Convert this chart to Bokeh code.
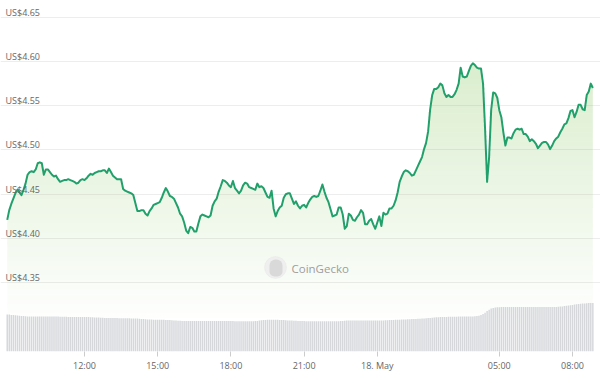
import numpy as np
import pandas as pd
from bokeh.plotting import figure
from bokeh.models import Range1d, FixedTicker, Label, BoxAnnotation, Grid
from bokeh.core.properties import value
from bokeh.embed import file_html
from bokeh.resources import INLINE

# ---------------- data ----------------
start_time = "2023-05-17 08:50"   # first 5-minute sample
day_start = "2023-05-17 00:00"

price_usd = [
    4.421, 4.432, 4.439, 4.445, 4.451, 4.455, 4.452, 4.449, 4.455, 4.462,
    4.472, 4.475, 4.476, 4.475, 4.478, 4.485, 4.486, 4.485, 4.472, 4.478,
    4.478, 4.475, 4.472, 4.470, 4.471, 4.467, 4.464, 4.465, 4.466, 4.466,
    4.467, 4.466, 4.465, 4.464, 4.462, 4.463, 4.466, 4.467, 4.466, 4.468,
    4.471, 4.473, 4.472, 4.474, 4.475, 4.476, 4.476, 4.477, 4.477, 4.474,
    4.479, 4.475, 4.471, 4.469, 4.467, 4.467, 4.467, 4.456, 4.454, 4.453,
    4.452, 4.451, 4.449, 4.440, 4.431, 4.431, 4.432, 4.432, 4.428, 4.426,
    4.431, 4.434, 4.438, 4.439, 4.440, 4.441, 4.446, 4.452, 4.457, 4.453,
    4.448, 4.447, 4.445, 4.440, 4.435, 4.428, 4.425, 4.418, 4.409, 4.406,
    4.413, 4.412, 4.408, 4.408, 4.417, 4.425, 4.427, 4.426, 4.425, 4.424,
    4.426, 4.437, 4.442, 4.445, 4.453, 4.459, 4.466, 4.465, 4.463, 4.460,
    4.458, 4.465, 4.457, 4.454, 4.451, 4.454, 4.460, 4.463, 4.462, 4.458,
    4.457, 4.456, 4.455, 4.462, 4.458, 4.459, 4.457, 4.452, 4.447, 4.446,
    4.454, 4.434, 4.425, 4.431, 4.435, 4.437, 4.446, 4.450, 4.451, 4.451,
    4.445, 4.439, 4.442, 4.437, 4.434, 4.437, 4.438, 4.435, 4.440, 4.444,
    4.447, 4.448, 4.447, 4.448, 4.454, 4.461, 4.453, 4.446, 4.441, 4.433,
    4.425, 4.426, 4.427, 4.435, 4.435, 4.427, 4.411, 4.414, 4.428, 4.426,
    4.421, 4.420, 4.424, 4.427, 4.432, 4.429, 4.416, 4.416, 4.420, 4.422,
    4.416, 4.411, 4.418, 4.425, 4.414, 4.429, 4.427, 4.428, 4.434, 4.434,
    4.437, 4.443, 4.452, 4.464, 4.470, 4.475, 4.477, 4.476, 4.474, 4.471,
    4.472, 4.477, 4.482, 4.487, 4.492, 4.501, 4.508, 4.521, 4.546, 4.562,
    4.569, 4.569, 4.571, 4.575, 4.573, 4.564, 4.560, 4.562, 4.560, 4.560,
    4.563, 4.568, 4.575, 4.593, 4.583, 4.582, 4.583, 4.589, 4.595, 4.598,
    4.596, 4.593, 4.592, 4.592, 4.575, 4.524, 4.464, 4.492, 4.545, 4.565,
    4.564, 4.559, 4.545, 4.537, 4.520, 4.505, 4.514, 4.514, 4.513, 4.519,
    4.523, 4.524, 4.523, 4.524, 4.518, 4.518, 4.515, 4.510, 4.512, 4.510,
    4.507, 4.502, 4.505, 4.508, 4.509, 4.509, 4.506, 4.501, 4.505, 4.510,
    4.513, 4.515, 4.520, 4.524, 4.529, 4.530, 4.536, 4.544, 4.545, 4.537,
    4.543, 4.551, 4.551, 4.546, 4.545, 4.562, 4.566, 4.575, 4.570,
]

volume_musd = [
    37.0, 37.0, 36.6, 36.4, 36.2, 36.0, 35.8, 35.6, 35.4, 35.2,
    35.1, 35.0, 35.0, 35.0, 35.0, 35.0, 35.0, 35.0, 35.0, 35.0,
    35.0, 35.0, 35.0, 35.0, 35.0, 34.9, 34.8, 34.8, 34.7, 34.7,
    34.6, 34.6, 34.6, 34.6, 34.5, 34.5, 34.5, 34.5, 34.4, 34.4,
    34.4, 34.3, 34.2, 34.1, 34.0, 33.9, 33.8, 33.7, 33.6, 33.5,
    33.5, 33.5, 33.5, 33.4, 33.4, 33.3, 33.3, 33.3, 33.2, 33.2,
    33.2, 33.1, 33.0, 33.0, 32.9, 32.8, 32.6, 32.4, 32.2, 32.0,
    31.9, 31.9, 31.8, 31.8, 31.8, 31.7, 31.7, 31.7, 31.6, 31.5,
    31.4, 31.2, 31.0, 30.9, 30.8, 30.7, 30.6, 30.6, 30.5, 30.5,
    30.5, 30.5, 30.5, 30.5, 30.5, 30.5, 30.5, 30.5, 30.5, 30.5,
    30.5, 30.5, 30.5, 30.5, 30.5, 30.4, 30.4, 30.4, 30.4, 30.4,
    30.4, 30.4, 30.3, 30.3, 30.3, 30.3, 30.3, 30.3, 30.3, 30.3,
    30.3, 30.3, 30.4, 30.6, 30.9, 31.2, 31.5, 31.6, 31.7, 31.7,
    31.7, 31.7, 31.7, 31.7, 31.6, 31.5, 31.4, 31.3, 31.1, 31.0,
    30.9, 30.8, 30.7, 30.6, 30.5, 30.4, 30.4, 30.3, 30.3, 30.3,
    30.3, 30.3, 30.3, 30.3, 30.3, 30.3, 30.3, 30.3, 30.3, 30.3,
    30.3, 30.3, 30.3, 30.3, 30.4, 30.6, 30.8, 31.0, 31.0, 31.0,
    31.0, 31.0, 31.0, 31.0, 31.0, 31.0, 31.0, 31.0, 31.0, 31.0,
    31.0, 31.0, 31.0, 31.0, 31.0, 31.1, 31.2, 31.3, 31.4, 31.5,
    31.6, 31.7, 31.7, 31.8, 31.9, 32.0, 32.1, 32.2, 32.3, 32.4,
    32.5, 32.6, 32.7, 32.8, 32.9, 33.0, 33.2, 33.4, 33.6, 33.8,
    34.0, 34.2, 34.3, 34.4, 34.5, 34.6, 34.6, 34.7, 34.7, 34.8,
    34.8, 34.8, 34.9, 34.9, 34.9, 35.0, 35.0, 35.0, 35.0, 35.1,
    35.2, 35.4, 35.8, 36.4, 37.4, 38.8, 40.4, 41.8, 42.9, 43.6,
    44.0, 44.2, 44.3, 44.4, 44.4, 44.4, 44.4, 44.4, 44.4, 44.4,
    44.4, 44.4, 44.4, 44.4, 44.4, 44.4, 44.4, 44.4, 44.4, 44.4,
    44.4, 44.4, 44.4, 44.4, 44.5, 44.5, 44.5, 44.5, 44.5, 44.5,
    44.6, 44.7, 44.9, 45.1, 45.4, 45.7, 46.0, 46.3, 46.6, 46.9,
    47.2, 47.5, 47.7, 47.9, 48.1, 48.3, 48.4, 48.5, 48.5,
]

x_tick_times = ["2023-05-17 12:00", "2023-05-17 15:00", "2023-05-17 18:00",
                "2023-05-17 21:00", "2023-05-18 00:00", "2023-05-18 05:00",
                "2023-05-18 08:00"]
x_tick_labels = ["12:00", "15:00", "18:00", "21:00", "18. May", "05:00", "08:00"]

y_ticks = [4.35, 4.40, 4.45, 4.50, 4.55, 4.60, 4.65]
y_tick_labels = ["US$4.35", "US$4.40", "US$4.45", "US$4.50", "US$4.55", "US$4.60", "US$4.65"]

# ---------------- derived ----------------
day0 = pd.Timestamp(day_start)
one_hour = pd.Timedelta(hours=1)
times = pd.date_range(pd.Timestamp(start_time), periods=len(price_usd), freq="5min")
hours = np.asarray((times - day0) / one_hour, dtype=float)
price = np.asarray(price_usd, dtype=float)
tick_hours = [float((pd.Timestamp(t) - day0) / one_hour) for t in x_tick_times]

X_LO, X_HI = 8.5574, 33.1475
Y_LO, Y_HI = 4.2723, 4.6689

LINE = "#22a06b"
TXT = "#666666"
FONT = "Open Sans"

p = figure(width=600, height=383, output_backend="svg", toolbar_location=None,
           x_range=Range1d(X_LO, X_HI), y_range=Range1d(Y_LO, Y_HI),
           y_axis_location=None,
           min_border_left=0, min_border_right=0, min_border_top=0, min_border_bottom=32,
           outline_line_color=None, background_fill_color="white",
           border_fill_color="white")

p.xgrid.visible = False
p.ygrid.visible = False
p.add_layout(Grid(dimension=1, ticker=FixedTicker(ticks=y_ticks),
                  grid_line_color="#ededed", grid_line_width=1))

# gradient area under the line (vertical gradient built from horizontal bands)
levels = np.linspace(Y_LO, 4.66, 73)
fill_rgb = (132, 196, 90)
for lo, hi in zip(levels[:-1], levels[1:]):
    mid = 0.5 * (lo + hi)
    a = 0.36 * (mid - 4.30) / (4.66 - 4.30)
    if a <= 0:
        continue
    a = min(a, 0.36)
    top = np.clip(price, lo, hi)
    if np.all(top <= lo):
        continue
    p.varea(x=hours, y1=np.full_like(top, lo), y2=top,
            fill_color=fill_rgb, fill_alpha=a)

# volume bars
p.extra_y_ranges = {"vol": Range1d(0, max(volume_musd) / 0.1382)}
p.vbar(x=hours, top=volume_musd, bottom=0, width=(5 / 60) * 0.72,
       y_range_name="vol", fill_color="#d5d7db", line_color=None)

# price line
p.line(hours, price, line_color=LINE, line_width=2, line_join="round")

# y labels inside the plot
p.text(x=[X_LO] * len(y_ticks), y=y_ticks, text=y_tick_labels,
       text_font=value(FONT), text_font_size=value("9px"), text_color=TXT,
       text_align="left", text_baseline="alphabetic", x_offset=5, y_offset=-5)

# x axis
ax = p.xaxis[0]
ax.ticker = FixedTicker(ticks=tick_hours)
ax.major_label_overrides = dict(zip(tick_hours, x_tick_labels))
ax.axis_line_color = None
ax.major_tick_line_color = "#cccccc"
ax.major_tick_in = 0
ax.major_tick_out = 5
ax.minor_tick_line_color = None
ax.major_label_text_font = FONT
ax.major_label_text_font_size = "9px"
ax.major_label_text_color = TXT
ax.major_label_standoff = 2

# watermark (logo disc + gecko head + name)
p.add_layout(BoxAnnotation(left=264, right=286, bottom=73, top=95,
                           left_units="screen", right_units="screen",
                           bottom_units="screen", top_units="screen",
                           border_radius=11, fill_color="#efefef", fill_alpha=1,
                           line_color="#e0e0e0", line_width=1, level="overlay"))
p.add_layout(BoxAnnotation(left=269, right=282, bottom=75, top=92,
                           left_units="screen", right_units="screen",
                           bottom_units="screen", top_units="screen",
                           border_radius=(6, 6, 5, 5), fill_color="#d9d9d9",
                           fill_alpha=1, line_color=None, level="overlay"))
p.add_layout(Label(x=291, y=83, x_units="screen", y_units="screen",
                   text="CoinGecko", text_font=FONT, text_font_size="11.5px",
                   text_color="#9d9d9d", text_baseline="middle"))

open("out.html", "w").write(file_html(p, INLINE))
